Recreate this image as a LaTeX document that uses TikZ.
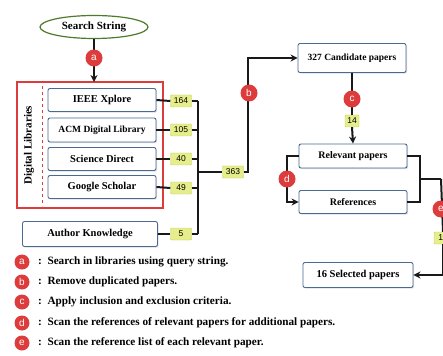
\documentclass[tikz,border=0pt]{standalone}
\usepackage{fontspec}
\setmainfont{Liberation Serif}
\newfontfamily\numfont{Liberation Sans}
\usetikzlibrary{arrows.meta,positioning,calc,shapes.geometric,shadows}
\definecolor{frame}{HTML}{4A6A92}
\definecolor{olive}{HTML}{4E7A2A}
\definecolor{tagred}{HTML}{DC3C3C}
\definecolor{lime}{HTML}{E6EE8C}
\definecolor{limeline}{HTML}{C2CC5A}
\tikzset{box/.style={draw=frame,fill=white,rounded corners=2pt,line width=0.9pt,align=center,font=\bfseries\fontsize{10.5}{12}\selectfont,inner sep=2pt,drop shadow={opacity=0.25,shadow xshift=1pt,shadow yshift=-1.2pt}},cnt/.style={draw=limeline,fill=lime,rounded corners=1pt,font=\numfont\fontsize{8.5}{10}\selectfont,inner sep=1.5pt,minimum width=21pt,minimum height=12pt},tag/.style={circle,fill=tagred,text=white,font=\numfont\fontsize{10}{10}\selectfont,inner sep=0pt,minimum size=17pt},line/.style={line width=2pt,draw=black!90},arr/.style={line,-{Stealth[length=7pt,width=7pt]}},legend/.style={anchor=west,font=\bfseries\fontsize{11.2}{13}\selectfont,inner sep=0pt}}
\begin{document}
\begin{tikzpicture}[x=1pt,y=-1pt]
\clip (0,0) rectangle (443,355);
\node[ellipse,draw=olive,line width=1.2pt,fill=white,minimum width=108pt,minimum height=23pt,font=\bfseries\fontsize{11}{12}\selectfont,inner sep=0pt] (search) at (94,27) {Search String};
\draw[tagred,line width=1.1pt] (17,82) rectangle (163,208);
\draw[tagred,line width=1pt,dashed] (42,86) -- (42,206);
\node[rotate=90,font=\bfseries\fontsize{11}{12}\selectfont] (dl) at (29,145) {Digital Libraries};
\coordinate (dltop) at (94,82);
\node[box,minimum width=108pt,minimum height=23pt] (ieee) at (102,100) {IEEE Xplore};
\node[box,minimum width=108pt,minimum height=24pt] (acm) at (102,130) {\fontsize{9.5}{11}\selectfont ACM Digital Library};
\node[box,minimum width=108pt,minimum height=23pt] (sd) at (102,159) {Science Direct};
\node[box,minimum width=108pt,minimum height=23pt] (gs) at (102,187) {Google Scholar};
\node[box,minimum width=135pt,minimum height=25pt] (ak) at (90,234) {Author Knowledge};
\node[cnt] (n1) at (181,101) {164};
\node[cnt] (n2) at (181,130) {105};
\node[cnt] (n3) at (181,159) {40};
\node[cnt] (n4) at (181,188) {49};
\node[cnt] (n5) at (181,234) {5};
\coordinate (bus) at (198,172);
\node[cnt] (n363) at (233,172) {363};
\node[box,minimum width=108pt,minimum height=29pt] (cand) at (352,58) {\fontsize{9.5}{11}\selectfont 327 Candidate papers};
\node[cnt,minimum width=14pt] (n14) at (352,121) {14};
\node[box,minimum width=108pt,minimum height=24pt] (rel) at (353,156) {\fontsize{10}{11}\selectfont Relevant papers};
\node[box,minimum width=108pt,minimum height=23pt] (refs) at (353,202) {\fontsize{10}{11}\selectfont References};
\node[box,minimum width=110pt,minimum height=25pt] (sel) at (358,275) {16 Selected papers};
\coordinate (join) at (420,179);
\coordinate (down) at (441,179);
\draw[arr] (search) -- (dltop);
\foreach \b/\n in {ieee/n1,acm/n2,sd/n3,gs/n4,ak/n5}{
  \draw[line] (\b.east) -- (\n.west);
  \draw[line] (\n.east) -- (\n.east -| bus);
}
\draw[line] (n1.east -| bus) -- (n5.east -| bus);
\draw[line] (bus) -- (n363.west);
\draw[arr] (n363.east) -- ++(4,0) |- (cand.west);
\draw[line] (cand.south) -- (n14.north);
\draw[arr] (n14.south) -- (rel.north);
\draw[arr] (rel.west) -- ++(-12,0) |- (refs.west);
\draw[line] (rel.east) -| (join);
\draw[line] (refs.east) -| (join);
\draw[line] (join) -- (down);
\node[cnt,minimum width=18pt] (n16) at (443,238) {16};
\draw[line] (down) -- (n16.north);
\draw[arr] (n16.south) |- (sel.east);
\node[tag] (ta) at (94,58) {a};
\node[tag] (tb) at (249,93) {b};
\node[tag] (tc) at (352,99) {c};
\node[tag] (td) at (287,179) {d};
\node[tag] (te) at (441,209) {e};
\foreach \t/\y/\s in {a/262/Search in libraries using query string.,b/282/Remove duplicated papers.,c/302/Apply inclusion and exclusion criteria.,d/323/Scan the references of relevant papers for additional papers.,e/343/Scan the reference list of each relevant paper.}{
  \node[tag,minimum size=15pt] (l\t) at (22,\y) {\t};
  \node[legend] (s\t) at (38,\y) {:\ \ \s};
}
\end{tikzpicture}
\end{document}
